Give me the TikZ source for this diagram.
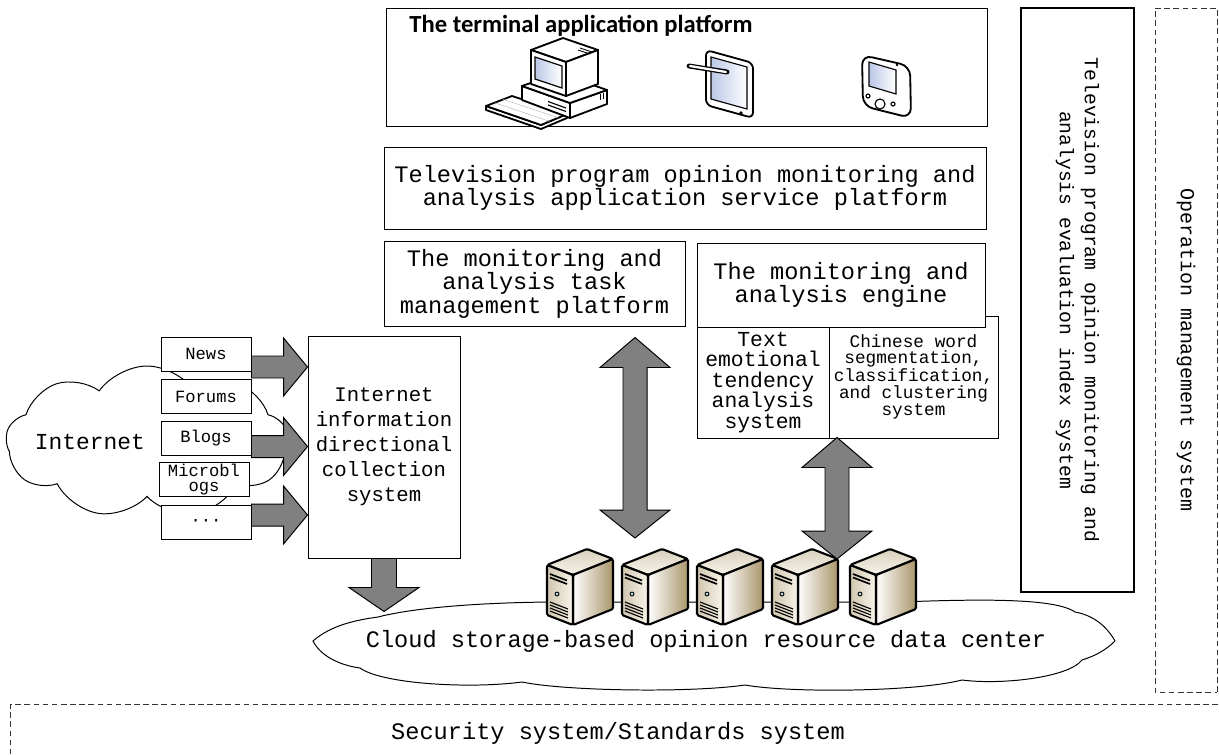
\documentclass[tikz,border=0pt]{standalone}
\usepackage{fontspec}
\setmainfont{Liberation Mono}
\newfontfamily\titlefont{Carlito}
\usetikzlibrary{shapes.symbols,positioning,calc}

\definecolor{arrowgray}{RGB}{128,128,128}
\definecolor{srvtan}{RGB}{170,150,108}
\definecolor{srvcream}{RGB}{248,244,234}
\definecolor{scrblue}{RGB}{186,200,230}

\newcommand{\setfs}[2]{\fontsize{#1}{#2}\selectfont}
\newcommand{\bigmono}{\setfs{16.8}{15}}

% fat arrow, left to right: #1 start, #2 tip
\newcommand{\hblock}[2]{%
  \draw[blockarrow] ($(#1)+(0,-11)$) -- ($(#2)+(-24,-11)$) -- ($(#2)+(-24,-29)$) -- (#2)
    -- ($(#2)+(-24,29)$) -- ($(#2)+(-24,11)$) -- ($(#1)+(0,11)$) -- cycle;}
% fat arrow, downwards: #1 start, #2 tip
\newcommand{\vblock}[2]{%
  \draw[blockarrow] ($(#1)+(-12.5,0)$) -- ($(#2)+(-12.5,-24)$) -- ($(#2)+(-35,-24)$) -- (#2)
    -- ($(#2)+(35,-24)$) -- ($(#2)+(12.5,-24)$) -- ($(#1)+(12.5,0)$) -- cycle;}
% fat arrow with two heads: #1 upper tip, #2 lower tip
\newcommand{\vdouble}[2]{%
  \draw[blockarrow] (#1) -- ($(#1)+(35,30)$) -- ($(#1)+(12,30)$) -- ($(#2)+(12,-28)$)
    -- ($(#2)+(35,-28)$) -- (#2) -- ($(#2)+(-35,-28)$) -- ($(#2)+(-12,-28)$)
    -- ($(#1)+(-12,30)$) -- ($(#1)+(-35,30)$) -- cycle;}

\tikzset{
  server/.pic={
    \path[srvline, top color=srvtan!45!white, bottom color=srvcream] (0,16) -- (40,0) -- (66,10) -- (26,26) -- cycle;
    \path[srvline, left color=white, right color=srvtan] (26,26) -- (66,10) -- (66,60) -- (26,76) -- cycle;
    \path[srvline, left color=srvtan!55!white, right color=srvcream] (0,16) -- (26,26) -- (26,76) -- (0,66) -- cycle;
    \draw[line width=1.2pt] (3,25) -- (20,31.5) (3,28.5) -- (20,35);
    \draw[line width=0.6pt, fill=teal!30] (10,45) circle (2);
    \foreach \v in {53,56,59,62}
      \draw[line width=0.8pt] (3,\v) -- (21,\v+7);
    \coordinate (-top) at (40,0);
  }
}

\begin{document}
\begin{tikzpicture}[x=0.25mm, y=-0.25mm,
  box/.style={draw, fill=white, line width=0.7pt, align=center, inner sep=0pt},
  tag/.style={box, minimum width=22.5mm, minimum height=8.5mm, font=\setfs{12.2}{10.8}},
  blockarrow/.style={draw, fill=arrowgray, line width=0.7pt, line join=miter},
  dashbox/.style={draw=black!80, dash pattern=on 4pt off 2.5pt, line width=0.6pt, inner sep=0pt, align=center},
  icon/.style={draw, line width=1.3pt, line join=round, fill=white},
  screen/.style={draw, line width=0.8pt, left color=scrblue, right color=white},
  srvline/.style={draw, line width=1.5pt, line join=round, rounded corners=1pt}]

\useasboundingbox (0,0) rectangle (1219,755);

% terminals
\node[box, minimum width=150.25mm, minimum height=29.5mm] (terminal) at (686.5,67) {};
\node[anchor=base west, font=\titlefont\bfseries\setfs{17.5}{20}] (termtitle) at ($(terminal.north west)+(19,25)$) {The terminal application platform};
% desktop computer
\filldraw[icon] (486,106) -- (541,125) -- (567,114) -- (567,118) -- (541,129) -- (486,110) -- cycle;
\filldraw[icon] (486,106) -- (512,96) -- (567,114) -- (541,125) -- cycle;
\draw[gray!60, line width=0.3pt] ($(486,106)!0.33!(512,96)$) -- ($(541,125)!0.33!(567,114)$)
  ($(486,106)!0.66!(512,96)$) -- ($(541,125)!0.66!(567,114)$);
\filldraw[icon] (570,103) -- (607,90) -- (607,104) -- (570,118) -- cycle;
\filldraw[icon] (522,86) -- (570,103) -- (570,118) -- (522,100) -- cycle;
\filldraw[icon] (522,86) -- (559,73) -- (607,90) -- (570,103) -- cycle;
\draw[line width=0.8pt] (548,101.5) -- (566,108) (548,105) -- (566,111.5);
\draw[line width=0.6pt] (600,94) -- (600,100) (603,93) -- (603,99);
\filldraw[icon] (531,50) -- (563,38) -- (598,50) -- (566,62) -- cycle;
\filldraw[icon] (566,62) -- (598,50) -- (598,84) -- (566,96) -- cycle;
\filldraw[icon] (531,50) -- (566,62) -- (566,96) -- (531,84) -- cycle;
\draw[screen] (535,57) -- (562,66) -- (562,88) -- (535,79) -- cycle;
\draw[line width=0.6pt] (580,48) -- (592,52) (578,50) -- (590,54);
% tablet
\draw[icon, rounded corners=4pt] (706,50) -- (753,63) -- (753,118) -- (706,105) -- cycle;
\draw[screen] (711,57) -- (747,67) -- (747,109) -- (711,99) -- cycle;
\fill (741,113) circle (1.8);
\draw[line width=3.5pt, line cap=round] (689,66) -- (727,72);
\draw[white, line width=1.6pt, line cap=round] (690,66) -- (726,72);
% pocket pc
\draw[icon, rounded corners=7pt] (862,55) -- (910,66) -- (911,118) -- (863,106) -- cycle;
\draw[screen] (869,62) -- (896,70) -- (896,94) -- (869,86) -- cycle;
\draw[line width=0.8pt, fill=white] (868,96) circle (2) (893,104) circle (2) (880,104) circle (5);
\fill (897,65) circle (1.3);

% platform layers
\node[box, minimum width=150.5mm, minimum height=20.5mm, font=\bigmono] (service) at (685,188)
  {Television program opinion monitoring and\\analysis application service platform};
\node[box, minimum width=75.25mm, minimum height=21.25mm, font=\bigmono] (task) at (534.5,283.5)
  {The monitoring and\\analysis task\\management platform};
% segmentation box sits behind the engine box
\node[box, minimum width=42.25mm, minimum height=30.5mm, font=\setfs{12.6}{11}] (segment) at (913.5,377)
  {Chinese word\\segmentation,\\classification,\\and clustering\\system};
\node[box, minimum width=72mm, minimum height=21mm, font=\bigmono] (engine) at (841,285)
  {The monitoring and\\analysis engine};
\node[box, minimum width=33mm, minimum height=27.75mm, font=\setfs{15.2}{14.6}] (emotion) at (763,382.5)
  {Text\\emotional\\tendency\\analysis\\system};

% internet sources
\node[draw, fill=white, cloud, cloud puffs=9, cloud puff arc=110, aspect=1.85, line width=0.7pt,
  minimum width=70.5mm, minimum height=38mm] (internet) at (147,442) {};
\node[font=\setfs{16.3}{18}] (inetlabel) at (90,442) {Internet};
\node[tag] (news) at (206,354) {News};
\node[tag] (forums) at (206,396.5) {Forums};
\node[tag] (blogs) at (206,438.5) {Blogs};
\node[tag] (micro) at (204,479.5) {Microbl\\ogs};
\node[tag] (more) at (206,522) {···};
\node[box, minimum width=38mm, minimum height=55.5mm, font=\setfs{14.7}{17.8}] (coll) at (384,447)
  {Internet\\information\\directional\\collection\\system};

% data center
\draw[fill=white, line width=0.7pt] (313,641)
  .. controls (328,628) and (348,621) .. (378,617)
  .. controls (420,606) and (500,602) .. (560,602) -- (900,602)
  .. controls (980,599) and (1055,598) .. (1075,612)
  .. controls (1092,615) and (1106,625) .. (1115,641)
  .. controls (1106,650) and (1095,656) .. (1082,660)
  .. controls (1068,678) and (1000,685) .. (962,680)
  .. controls (915,692) and (790,693) .. (745,685)
  .. controls (690,693) and (565,691) .. (522,682)
  .. controls (470,689) and (382,684) .. (360,668)
  .. controls (338,665) and (320,655) .. (313,641) -- cycle;
\node[font=\bigmono] (dclabel) at (706,641) {Cloud storage-based opinion resource data center};
\foreach \sx [count=\i] in {547,622,697,772,850}
  \pic (srv\i) at (\sx,549) {server};

% arrows
\foreach \src/\dy [count=\k] in {news/13, blogs/8, more/-7} {
  \coordinate (a\k s) at ($(\src.east)+(0,\dy)$);
  \coordinate (a\k t) at (coll.west |- a\k s);
  \hblock{a\k s}{a\k t}
}
\coordinate (dctip) at ($(coll.south)+(0,53)$);
\vblock{coll.south}{dctip}
\coordinate (d1a) at ($(task.south)+(100.5,11)$);
\path (d1a |- srv2-top) ++(0,-11) coordinate (d1b);
\vdouble{d1a}{d1b}
\coordinate (d2a) at ($(emotion.south east)+(7.5,-1)$);
\path (d2a |- srv4-top) ++(0,10) coordinate (d2b);
\vdouble{d2a}{d2b}

% side systems
\node[draw, line width=1.5pt, rotate=-90, minimum width=146mm, minimum height=28.25mm, inner sep=0pt,
  align=center, font=\setfs{14}{17.8}] (index) at (1077.5,300)
  {Television program opinion monitoring and\\analysis evaluation index system};
\node[dashbox, rotate=-90, minimum width=171mm, minimum height=15.5mm, font=\setfs{14.2}{16}] (oper) at (1186,350)
  {Operation management system};
\node[dashbox, anchor=north west, minimum width=303.75mm, minimum height=16.5mm] (secure) at (10,704) {};
\node[font=\bigmono] (seclabel) at (618,733) {Security system/Standards system};
\end{tikzpicture}
\end{document}
